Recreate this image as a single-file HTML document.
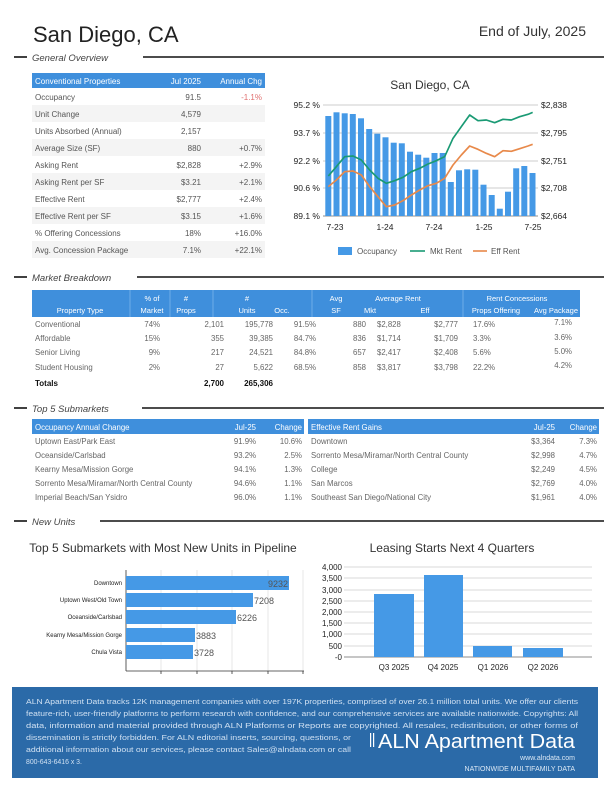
<!DOCTYPE html>
<html><head><meta charset="utf-8"><style>
html,body{margin:0;padding:0;background:#fff}
svg{display:block}
text{font-family:"Liberation Sans",sans-serif}
</style></head><body>
<svg width="612" height="792" viewBox="0 0 612 792" xmlns="http://www.w3.org/2000/svg">
<!-- Header -->
<text x="33" y="42" font-size="22" fill="#222">San Diego, CA</text>
<text x="586" y="36" font-size="14" fill="#333" text-anchor="end">End of July, 2025</text>

<!-- Section lines -->
<g stroke="#111" stroke-width="1.6">
<line x1="14" y1="57" x2="27" y2="57"/><line x1="143" y1="57" x2="604" y2="57"/>
<line x1="14" y1="277" x2="27" y2="277"/><line x1="137" y1="277" x2="604" y2="277"/>
<line x1="14" y1="408" x2="27" y2="408"/><line x1="142" y1="408" x2="604" y2="408"/>
<line x1="14" y1="521" x2="27" y2="521"/><line x1="100" y1="521" x2="604" y2="521"/>
</g>
<g font-size="9.5" font-style="italic" fill="#444">
<text x="32" y="61">General Overview</text>
<text x="32" y="281">Market Breakdown</text>
<text x="32" y="412">Top 5 Submarkets</text>
<text x="32" y="525">New Units</text>
</g>

<!-- Table 1 -->
<rect x="32" y="73" width="233" height="15" fill="#3f8fdc"/>
<g font-size="8" fill="#fff"><text x="35" y="84">Conventional Properties</text><text x="201" y="84" text-anchor="end">Jul 2025</text><text x="262" y="84" text-anchor="end">Annual Chg</text></g>
<g fill="#f4f4f4">
<rect x="32" y="105" width="233" height="17"/><rect x="32" y="139" width="233" height="17"/><rect x="32" y="173" width="233" height="17"/><rect x="32" y="207" width="233" height="17"/><rect x="32" y="241" width="233" height="17"/>
</g>
<g font-size="8" fill="#555">
<text x="35" y="100">Occupancy</text><text x="201" y="100" text-anchor="end">91.5</text><text x="262" y="100" text-anchor="end" fill="#e07070">-1.1%</text>
<text x="35" y="117">Unit Change</text><text x="201" y="117" text-anchor="end">4,579</text>
<text x="35" y="134">Units Absorbed (Annual)</text><text x="201" y="134" text-anchor="end">2,157</text>
<text x="35" y="151">Average Size (SF)</text><text x="201" y="151" text-anchor="end">880</text><text x="262" y="151" text-anchor="end">+0.7%</text>
<text x="35" y="168">Asking Rent</text><text x="201" y="168" text-anchor="end">$2,828</text><text x="262" y="168" text-anchor="end">+2.9%</text>
<text x="35" y="185">Asking Rent per SF</text><text x="201" y="185" text-anchor="end">$3.21</text><text x="262" y="185" text-anchor="end">+2.1%</text>
<text x="35" y="202">Effective Rent</text><text x="201" y="202" text-anchor="end">$2,777</text><text x="262" y="202" text-anchor="end">+2.4%</text>
<text x="35" y="219">Effective Rent per SF</text><text x="201" y="219" text-anchor="end">$3.15</text><text x="262" y="219" text-anchor="end">+1.6%</text>
<text x="35" y="236">% Offering Concessions</text><text x="201" y="236" text-anchor="end">18%</text><text x="262" y="236" text-anchor="end">+16.0%</text>
<text x="35" y="253">Avg. Concession Package</text><text x="201" y="253" text-anchor="end">7.1%</text><text x="262" y="253" text-anchor="end">+22.1%</text>
</g>

<!-- Main chart -->
<text x="430" y="89" font-size="12" fill="#333" text-anchor="middle">San Diego, CA</text>
<g stroke="#bbb" stroke-width="0.8">
<line x1="323" y1="105" x2="538" y2="105"/><line x1="323" y1="133" x2="538" y2="133"/><line x1="323" y1="161" x2="538" y2="161"/><line x1="323" y1="188" x2="538" y2="188"/>
</g>
<line x1="323" y1="216" x2="538" y2="216" stroke="#666" stroke-width="0.8"/>
<g font-size="8.5" fill="#222">
<text x="320" y="108" text-anchor="end">95.2 %</text><text x="320" y="136" text-anchor="end">93.7 %</text><text x="320" y="164" text-anchor="end">92.2 %</text><text x="320" y="191" text-anchor="end">90.6 %</text><text x="320" y="219" text-anchor="end">89.1 %</text>
<text x="541" y="108">$2,838</text><text x="541" y="136">$2,795</text><text x="541" y="164">$2,751</text><text x="541" y="191">$2,708</text><text x="541" y="219">$2,664</text>
<text x="335" y="230" text-anchor="middle">7-23</text><text x="385" y="230" text-anchor="middle">1-24</text><text x="434" y="230" text-anchor="middle">7-24</text><text x="484" y="230" text-anchor="middle">1-25</text><text x="533" y="230" text-anchor="middle">7-25</text>
</g>
<g fill="#4599e6">
<rect x="325.3" y="116" width="6" height="100"/><rect x="333.5" y="112.3" width="6" height="103.7"/><rect x="341.7" y="113.3" width="6" height="102.7"/><rect x="349.8" y="114" width="6" height="102"/><rect x="358" y="118.3" width="6" height="97.7"/><rect x="366.2" y="129" width="6" height="87"/><rect x="374.3" y="133.7" width="6" height="82.3"/><rect x="382.5" y="137.3" width="6" height="78.7"/><rect x="390.7" y="142.7" width="6" height="73.3"/><rect x="398.8" y="143.3" width="6" height="72.7"/><rect x="407" y="151.7" width="6" height="64.3"/><rect x="415.2" y="154.7" width="6" height="61.3"/><rect x="423.3" y="157.7" width="6" height="58.3"/><rect x="431.5" y="153" width="6" height="63"/><rect x="439.7" y="153" width="6" height="63"/><rect x="447.8" y="182" width="6" height="34"/><rect x="456" y="170.3" width="6" height="45.7"/><rect x="464.2" y="169.3" width="6" height="46.7"/><rect x="472.3" y="169.7" width="6" height="46.3"/><rect x="480.5" y="184.7" width="6" height="31.3"/><rect x="488.7" y="195" width="6" height="21"/><rect x="496.8" y="208.7" width="6" height="7.3"/><rect x="505" y="191.7" width="6" height="24.3"/><rect x="513.2" y="168.3" width="6" height="47.7"/><rect x="521.3" y="166" width="6" height="50"/><rect x="529.5" y="173" width="6" height="43"/>
</g>
<g transform="translate(290,60) scale(0.33333)" fill="none" stroke-width="5" stroke-linejoin="round">
<polyline stroke="#1a9a74" points="115,348 139,320 164,290 189,288 214,300 239,330 264,355 289,370 314,362 339,352 364,335 389,325 414,312 439,302 464,290 489,235 514,200 539,165 564,182 589,180 614,188 639,178 664,180 689,170 714,163 728,157"/>
<polyline stroke="#e8894a" points="115,380 139,360 164,335 189,333 214,345 239,380 264,410 289,440 314,435 339,422 364,405 389,390 414,377 439,370 464,355 489,315 514,285 539,258 564,268 589,280 614,290 639,272 664,274 689,266 714,258 728,253"/>
</g>
<rect x="338" y="247" width="14" height="8" fill="#4599e6"/>
<line x1="410" y1="251" x2="425" y2="251" stroke="#1a9a74" stroke-width="1.6"/>
<line x1="473" y1="251" x2="487" y2="251" stroke="#e8894a" stroke-width="1.6"/>
<g font-size="8" fill="#555"><text x="357" y="254">Occupancy</text><text x="430" y="254">Mkt Rent</text><text x="491" y="254">Eff Rent</text></g>

<!-- Market breakdown -->
<rect x="32" y="290" width="548" height="27" fill="#3f8fdc"/>
<g stroke="#8fc0ee" stroke-width="0.6">
<line x1="130" y1="290" x2="130" y2="317"/><line x1="170" y1="290" x2="170" y2="317"/><line x1="213" y1="290" x2="213" y2="317"/><line x1="312" y1="290" x2="312" y2="317"/><line x1="463" y1="290" x2="463" y2="317"/>
</g>
<g font-size="7.5" fill="#fff" text-anchor="middle">
<text x="152" y="301">% of</text><text x="186" y="301">#</text><text x="247" y="301">#</text><text x="336" y="301">Avg</text><text x="398" y="301">Average Rent</text><text x="517" y="301">Rent Concessions</text>
<text x="80" y="313">Property Type</text><text x="152" y="313">Market</text><text x="186" y="313">Props</text><text x="247" y="313">Units</text><text x="282" y="313">Occ.</text><text x="336" y="313">SF</text><text x="370" y="313">Mkt</text><text x="425" y="313">Eff</text><text x="496" y="313">Props Offering</text><text x="556" y="313">Avg Package</text>
</g>
<g font-size="7.8" fill="#666">
<g text-anchor="start"><text x="35" y="327">Conventional</text><text x="35" y="341">Affordable</text><text x="35" y="355">Senior Living</text><text x="35" y="370">Student Housing</text>
<text x="377" y="327">$2,828</text><text x="377" y="341">$1,714</text><text x="377" y="355">$2,417</text><text x="377" y="370">$3,817</text>
<text x="473" y="327">17.6%</text><text x="473" y="341">3.3%</text><text x="473" y="355">5.6%</text><text x="473" y="370">22.2%</text></g>
<g text-anchor="end">
<text x="160" y="327">74%</text><text x="160" y="341">15%</text><text x="160" y="355">9%</text><text x="160" y="370">2%</text>
<text x="224" y="327">2,101</text><text x="224" y="341">355</text><text x="224" y="355">217</text><text x="224" y="370">27</text>
<text x="273" y="327">195,778</text><text x="273" y="341">39,385</text><text x="273" y="355">24,521</text><text x="273" y="370">5,622</text>
<text x="316" y="327">91.5%</text><text x="316" y="341">84.7%</text><text x="316" y="355">84.8%</text><text x="316" y="370">68.5%</text>
<text x="366" y="327">880</text><text x="366" y="341">836</text><text x="366" y="355">657</text><text x="366" y="370">858</text>
<text x="458" y="327">$2,777</text><text x="458" y="341">$1,709</text><text x="458" y="355">$2,408</text><text x="458" y="370">$3,798</text>
<text x="572" y="325">7.1%</text><text x="572" y="340">3.6%</text><text x="572" y="354">5.0%</text><text x="572" y="368">4.2%</text>
</g></g>
<g font-size="8" font-weight="bold" fill="#111"><text x="35" y="386">Totals</text><text x="224" y="386" text-anchor="end">2,700</text><text x="273" y="386" text-anchor="end">265,306</text></g>

<!-- Top 5 -->
<rect x="32" y="419" width="272" height="15" fill="#3f8fdc"/>
<rect x="308" y="419" width="291" height="15" fill="#3f8fdc"/>
<g font-size="7.8" fill="#fff">
<text x="35" y="430">Occupancy Annual Change</text><text x="256" y="430" text-anchor="end">Jul-25</text><text x="302" y="430" text-anchor="end">Change</text>
<text x="311" y="430">Effective Rent Gains</text><text x="555" y="430" text-anchor="end">Jul-25</text><text x="597" y="430" text-anchor="end">Change</text>
</g>
<g font-size="7.8" fill="#666">
<text x="35" y="444">Uptown East/Park East</text><text x="256" y="444" text-anchor="end">91.9%</text><text x="302" y="444" text-anchor="end">10.6%</text>
<text x="35" y="458">Oceanside/Carlsbad</text><text x="256" y="458" text-anchor="end">93.2%</text><text x="302" y="458" text-anchor="end">2.5%</text>
<text x="35" y="472">Kearny Mesa/Mission Gorge</text><text x="256" y="472" text-anchor="end">94.1%</text><text x="302" y="472" text-anchor="end">1.3%</text>
<text x="35" y="486">Sorrento Mesa/Miramar/North Central County</text><text x="256" y="486" text-anchor="end">94.6%</text><text x="302" y="486" text-anchor="end">1.1%</text>
<text x="35" y="500">Imperial Beach/San Ysidro</text><text x="256" y="500" text-anchor="end">96.0%</text><text x="302" y="500" text-anchor="end">1.1%</text>
<text x="311" y="444">Downtown</text><text x="555" y="444" text-anchor="end">$3,364</text><text x="597" y="444" text-anchor="end">7.3%</text>
<text x="311" y="458">Sorrento Mesa/Miramar/North Central County</text><text x="555" y="458" text-anchor="end">$2,998</text><text x="597" y="458" text-anchor="end">4.7%</text>
<text x="311" y="472">College</text><text x="555" y="472" text-anchor="end">$2,249</text><text x="597" y="472" text-anchor="end">4.5%</text>
<text x="311" y="486">San Marcos</text><text x="555" y="486" text-anchor="end">$2,769</text><text x="597" y="486" text-anchor="end">4.0%</text>
<text x="311" y="500">Southeast San Diego/National City</text><text x="555" y="500" text-anchor="end">$1,961</text><text x="597" y="500" text-anchor="end">4.0%</text>
</g>

<!-- New units left chart -->
<text x="163" y="552" font-size="12" fill="#333" text-anchor="middle">Top 5 Submarkets with Most New Units in Pipeline</text>
<g stroke="#ddd" stroke-width="0.7">
<line x1="161" y1="570" x2="161" y2="671"/><line x1="197" y1="570" x2="197" y2="671"/><line x1="232" y1="570" x2="232" y2="671"/><line x1="268" y1="570" x2="268" y2="671"/><line x1="303" y1="570" x2="303" y2="671"/>
</g>
<g stroke="#333" stroke-width="0.8">
<line x1="126" y1="570" x2="126" y2="671"/><line x1="126" y1="671" x2="304" y2="671"/>
<line x1="161" y1="671" x2="161" y2="674"/><line x1="197" y1="671" x2="197" y2="674"/><line x1="232" y1="671" x2="232" y2="674"/><line x1="268" y1="671" x2="268" y2="674"/><line x1="303" y1="671" x2="303" y2="674"/>
</g>
<g fill="#4599e6">
<rect x="126" y="576" width="163" height="14"/><rect x="126" y="593" width="127" height="14"/><rect x="126" y="610" width="110" height="14"/><rect x="126" y="628" width="69" height="14"/><rect x="126" y="645" width="67" height="14"/>
</g>
<g font-size="6" fill="#222" text-anchor="end">
<text x="122" y="585">Downtown</text><text x="122" y="602">Uptown West/Old Town</text><text x="122" y="619">Oceanside/Carlsbad</text><text x="122" y="637">Kearny Mesa/Mission Gorge</text><text x="122" y="654">Chula Vista</text>
</g>
<g font-size="9" fill="#555">
<text x="288" y="587" text-anchor="end">9232</text><text x="254" y="604">7208</text><text x="237" y="621">6226</text><text x="196" y="639">3883</text><text x="194" y="656">3728</text>
</g>

<!-- Right chart -->
<text x="452" y="552" font-size="12" fill="#333" text-anchor="middle">Leasing Starts Next 4 Quarters</text>
<g stroke="#ccc" stroke-width="0.7">
<line x1="344" y1="567" x2="592" y2="567"/><line x1="344" y1="578" x2="592" y2="578"/><line x1="344" y1="590" x2="592" y2="590"/><line x1="344" y1="601" x2="592" y2="601"/><line x1="344" y1="612" x2="592" y2="612"/><line x1="344" y1="623" x2="592" y2="623"/><line x1="344" y1="634" x2="592" y2="634"/><line x1="344" y1="646" x2="592" y2="646"/>
</g>
<line x1="344" y1="657" x2="592" y2="657" stroke="#666" stroke-width="0.8"/>
<g fill="#4599e6">
<rect x="374" y="594" width="40" height="63"/><rect x="424" y="575" width="39" height="82"/><rect x="473" y="646" width="39" height="11"/><rect x="523" y="648" width="40" height="9"/>
</g>
<g font-size="8" fill="#222" text-anchor="end">
<text x="342" y="570">4,000</text><text x="342" y="581">3,500</text><text x="342" y="593">3,000</text><text x="342" y="604">2,500</text><text x="342" y="615">2,000</text><text x="342" y="626">1,500</text><text x="342" y="637">1,000</text><text x="342" y="649">500</text><text x="342" y="660">-0</text>
</g>
<g font-size="8" fill="#222" text-anchor="middle">
<text x="394" y="670">Q3 2025</text><text x="443" y="670">Q4 2025</text><text x="493" y="670">Q1 2026</text><text x="543" y="670">Q2 2026</text>
</g>

<!-- Footer -->
<rect x="12" y="687" width="586" height="91" fill="#2b6aa8"/>
<g font-size="6.9" fill="#cfe0f2">
<text x="26" y="704" textLength="552" lengthAdjust="spacingAndGlyphs">ALN Apartment Data tracks 12K management companies with over 197K properties, comprised of over 26.1 million total units. We offer our clients</text>
<text x="26" y="716" textLength="552" lengthAdjust="spacingAndGlyphs">feature-rich, user-friendly platforms to perform research with confidence, and our comprehensive services are available nationwide. Copyrights: All</text>
<text x="26" y="728" textLength="552" lengthAdjust="spacingAndGlyphs">data, information and material provided through ALN Platforms or Reports are copyrighted. All resales, redistribution, or other forms of</text>
<text x="26" y="740" textLength="325" lengthAdjust="spacingAndGlyphs">dissemination is strictly forbidden. For ALN editorial inserts, sourcing, questions, or</text>
<text x="26" y="752" textLength="325" lengthAdjust="spacingAndGlyphs">additional information about our services, please contact Sales@alndata.com or call</text>
<text x="26" y="764">800-643-6416 x 3.</text>
</g>
<g fill="#fff">
<rect x="370" y="733" width="1.2" height="14"/><rect x="373" y="733" width="1.2" height="14"/>
<text x="378" y="748" font-size="20" textLength="197" lengthAdjust="spacingAndGlyphs">ALN Apartment Data</text>
<text x="575" y="760" font-size="7" fill="#dbe8f5" text-anchor="end">www.alndata.com</text>
<text x="575" y="771" font-size="7" fill="#dbe8f5" text-anchor="end">NATIONWIDE MULTIFAMILY DATA</text>
</g>
</svg>
</body></html>
